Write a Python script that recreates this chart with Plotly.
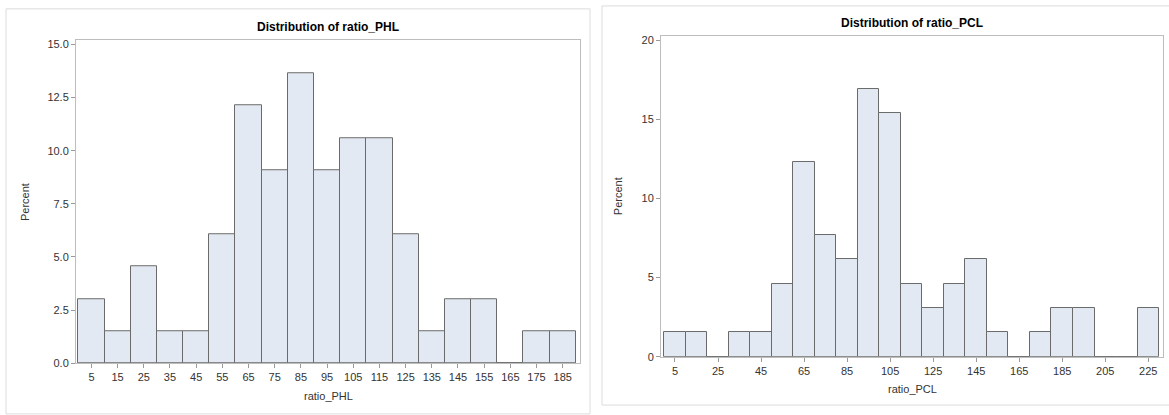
import plotly.graph_objects as go

W, H = 1169, 415

# Left histogram: ratio_PHL
phl_mid = [5, 15, 25, 35, 45, 55, 65, 75, 85, 95, 105, 115, 125, 135, 145, 155, 165, 175, 185]
phl_pct = [3.03, 1.52, 4.55, 1.52, 1.52, 6.06, 12.12, 9.09, 13.64, 9.09, 10.61, 10.61, 6.06,
           1.52, 3.03, 3.03, 0.0, 1.52, 1.52]

# Right histogram: ratio_PCL
pcl_mid = [5, 15, 25, 35, 45, 55, 65, 75, 85, 95, 105, 115, 125, 135, 145, 155, 165, 175, 185,
           195, 205, 215, 225]
pcl_pct = [1.54, 1.54, 0.0, 1.54, 1.54, 4.62, 12.31, 7.69, 6.15, 16.92, 15.38, 4.62, 3.08, 4.62,
           6.15, 1.54, 0.0, 1.54, 3.08, 3.08, 0.0, 0.0, 3.08]

phl_ticks = list(range(5, 186, 10))
pcl_ticks = list(range(5, 226, 20))
phl_yticks = [0, 2.5, 5, 7.5, 10, 12.5, 15]
pcl_yticks = [0, 5, 10, 15, 20]

FILL = "#E3E9F2"
EDGE = "#6A6A6A"
FONT = "Liberation Sans, Arial, sans-serif"

def px(x):
    return x / W

def py(y):
    return 1 - y / H

fig = go.Figure()
fig.add_trace(go.Bar(x=phl_mid, y=phl_pct, width=10, marker=dict(color=FILL, line=dict(color=EDGE, width=1)),
                     xaxis="x", yaxis="y", showlegend=False))
fig.add_trace(go.Bar(x=pcl_mid, y=pcl_pct, width=10, marker=dict(color=FILL, line=dict(color=EDGE, width=1)),
                     xaxis="x2", yaxis="y2", showlegend=False))

axis_common = dict(showgrid=False, zeroline=False, showline=True, mirror=True, linecolor="#BDBDBD",
                   linewidth=1, ticks="outside", ticklen=4, tickcolor="#9A9A9A",
                   tickfont=dict(family=FONT, size=11, color="#333333"))

fig.update_layout(
    width=W, height=H, margin=dict(l=0, r=0, t=0, b=0),
    paper_bgcolor="white", plot_bgcolor="white", bargap=0,
    xaxis=dict(domain=[px(76), px(580)], range=[-0.9, 191.6], tickvals=phl_ticks, anchor="y", **axis_common),
    yaxis=dict(domain=[py(368.3), py(39)], range=[0, 15.2], tickvals=phl_yticks, tickformat=".1f",
               anchor="x", **axis_common),
    xaxis2=dict(domain=[px(661), px(1162.7)], range=[-1.5, 231.7], tickvals=pcl_ticks, anchor="y2", **axis_common),
    yaxis2=dict(domain=[py(361.7), py(34.7)], range=[0, 20.27], tickvals=pcl_yticks, anchor="x2", **axis_common),
    font=dict(family=FONT),
)

# Panel borders
fig.add_shape(type="rect", xref="paper", yref="paper", x0=px(6), x1=px(590), y0=py(420), y1=py(7),
              line=dict(color="#DCDCDC", width=1), layer="below")
fig.add_shape(type="rect", xref="paper", yref="paper", x0=px(602), x1=px(1172), y0=py(411), y1=py(4),
              line=dict(color="#DCDCDC", width=1), layer="below")

ann = []
ann.append(dict(text="<b>Distribution of ratio_PHL</b>", x=px(328), y=py(25), xref="paper", yref="paper",
                showarrow=False, font=dict(family=FONT, size=12, color="black"), xanchor="center", yanchor="middle"))
ann.append(dict(text="<b>Distribution of ratio_PCL</b>", x=px(912), y=py(21), xref="paper", yref="paper",
                showarrow=False, font=dict(family=FONT, size=12, color="black"), xanchor="center", yanchor="middle"))
ann.append(dict(text="ratio_PHL", x=px(328), y=py(402), xref="paper", yref="paper", showarrow=False,
                font=dict(family=FONT, size=11, color="#333333"), xanchor="center", yanchor="middle"))
ann.append(dict(text="ratio_PCL", x=px(912), y=py(395), xref="paper", yref="paper", showarrow=False,
                font=dict(family=FONT, size=11, color="#333333"), xanchor="center", yanchor="middle"))
ann.append(dict(text="Percent", x=px(25), y=py(204), xref="paper", yref="paper", showarrow=False, textangle=-90,
                font=dict(family=FONT, size=11, color="#333333"), xanchor="center", yanchor="middle"))
ann.append(dict(text="Percent", x=px(618), y=py(198), xref="paper", yref="paper", showarrow=False, textangle=-90,
                font=dict(family=FONT, size=11, color="#333333"), xanchor="center", yanchor="middle"))
fig.update_layout(annotations=ann)

fig.write_html("out.html", config={"displayModeBar": False},
               post_script="document.body.style.margin='0';document.body.style.overflow='hidden';")
